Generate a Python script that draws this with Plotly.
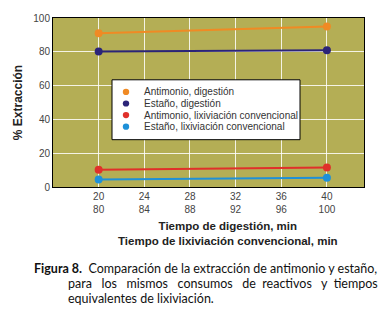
import plotly.graph_objects as go

x_dig = [20, 40]
sb_dig = [91, 95]
sn_dig = [80.2, 80.9]
sb_lix = [10.2, 11.6]
sn_lix = [4.4, 5.4]

tickvals = [20, 24, 28, 32, 36, 40]
ticktext = ["20<br>80", "24<br>84", "28<br>88", "32<br>92", "36<br>96", "40<br>100"]

names = ["Antimonio, digestión", "Estaño, digestión",
         "Antimonio, lixiviación convencional", "Estaño, lixiviación convencional"]
series = [sb_dig, sn_dig, sb_lix, sn_lix]
colors = ["#F08A24", "#2B2478", "#E0302A", "#1E90D8"]

W, H = 384, 326
L, R, T, B = 53, 364, 12, 187
pw, ph = R - L, B - T


def px(xp):
    return (xp - L) / pw


def py(yp):
    return (B - yp) / ph


fig = go.Figure()
for n, s, c in zip(names, series, colors):
    fig.add_trace(go.Scatter(x=x_dig, y=s, mode="lines+markers", name=n,
                             line=dict(color=c, width=2),
                             marker=dict(color=c, size=8), showlegend=False))

fig.update_layout(
    width=W, height=H,
    margin=dict(l=L, r=W - R, t=T, b=H - B),
    paper_bgcolor="white",
    plot_bgcolor="#B4AE55",
    font=dict(family="Liberation Sans, Arial, sans-serif", size=10, color="#333333"),
    showlegend=False,
    xaxis=dict(range=[16, 43.25], tickvals=tickvals, ticktext=ticktext,
               showgrid=True, gridcolor="rgba(255,255,255,0.85)", gridwidth=1,
               zeroline=False, showline=True, linecolor="black", linewidth=1, mirror=True,
               ticks="", tickfont=dict(size=10, color="#444444")),
    yaxis=dict(range=[0, 100], tickvals=[0, 20, 40, 60, 80, 100],
               showgrid=True, gridcolor="rgba(255,255,255,0.85)", gridwidth=1,
               zeroline=False, showline=True, linecolor="black", linewidth=1, mirror=True,
               ticks="", tickfont=dict(size=10, color="#444444"),
               title=dict(text="<b>% Extracción</b>", font=dict(size=12, color="#222222"),
                          standoff=8)),
)

# manual legend box
lx0, lx1, ly0, ly1 = 112, 300, 76, 138
fig.add_shape(type="rect", xref="paper", yref="paper",
              x0=px(lx0), x1=px(lx1), y0=py(ly1), y1=py(ly0),
              fillcolor="white", line=dict(color="black", width=1), layer="above")
item_y = [88.5, 100.5, 112.5, 124.5]
for n, c, yy in zip(names, colors, item_y):
    r = 3.2
    fig.add_shape(type="circle", xref="paper", yref="paper",
                  x0=px(126 - r), x1=px(126 + r), y0=py(yy + r), y1=py(yy - r),
                  fillcolor=c, line=dict(color=c, width=0), layer="above")
    fig.add_annotation(xref="paper", yref="paper", x=px(142), y=py(yy),
                       text=n, showarrow=False, xanchor="left", yanchor="middle",
                       font=dict(size=10, color="#333333"))

fig.add_annotation(xref="paper", yref="paper", x=px(228), y=py(235.5),
                   text="<b>Tiempo de digestión, min</b><br><b>Tiempo de lixiviación convencional, min</b>",
                   showarrow=False, align="center",
                   font=dict(size=11.5, color="#222222"), xanchor="center", yanchor="middle")

cap_font = dict(family="Lato, Open Sans, sans-serif", size=12.5, color="#111111")
fig.add_annotation(xref="paper", yref="paper", x=px(32), y=py(271),
                   text="<b>Figura 8.</b>  Comparación de la extracción de antimonio y estaño,",
                   showarrow=False, font=cap_font, xanchor="left", yanchor="middle")
fig.add_annotation(xref="paper", yref="paper", x=px(66), y=py(287),
                   text="para   los   mismos   consumos   de  reactivos   y  tiempos",
                   showarrow=False, font=cap_font, xanchor="left", yanchor="middle")
fig.add_annotation(xref="paper", yref="paper", x=px(66), y=py(302),
                   text="equivalentes de lixiviación.",
                   showarrow=False, font=cap_font, xanchor="left", yanchor="middle")

fig.write_html("out.html")
